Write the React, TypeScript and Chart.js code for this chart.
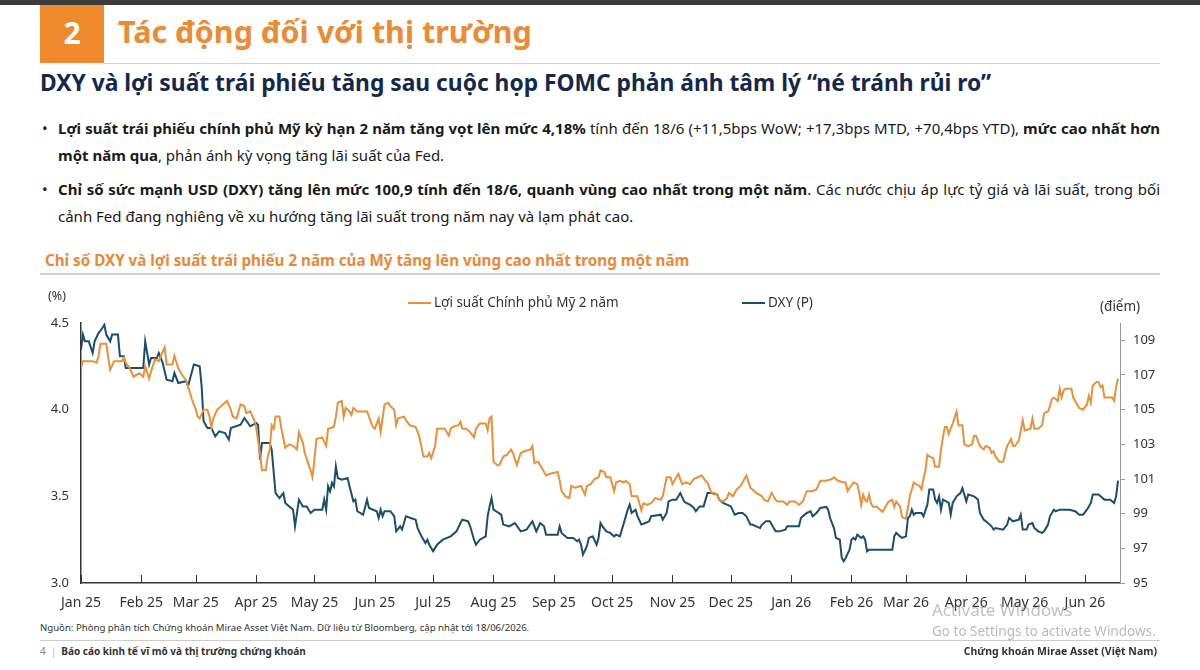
import React, { useEffect, useRef } from "react";
import { Chart, registerables } from "chart.js";

Chart.register(...registerables);

// Month boundaries, counted in days from 1 Jan 2025
const monthTickDays = [0, 31, 59, 90, 120, 151, 181, 212, 243, 273, 304, 334, 365, 396, 424, 455, 485, 516];
const monthLabels = [
  "Jan 25", "Feb 25", "Mar 25", "Apr 25", "May 25", "Jun 25", "Jul 25", "Aug 25", "Sep 25",
  "Oct 25", "Nov 25", "Dec 25", "Jan 26", "Feb 26", "Mar 26", "Apr 26", "May 26", "Jun 26",
];
const yieldTicks = [3.0, 3.5, 4.0, 4.5];
const dxyTicks = [95, 97, 99, 101, 103, 105, 107, 109];

// US 2-year Treasury yield (%)
const yieldDays = [
  0, 1, 6, 8, 9, 10, 13, 14, 15, 17,
  21, 22, 23, 25, 27, 30, 32, 33, 35, 36,
  38, 40, 41, 43, 44, 47, 48, 50, 52, 54,
  56, 57, 59, 60, 61, 63, 65, 66, 67, 68,
  70, 72, 75, 77, 78, 80, 82, 84, 85, 87,
  89, 90, 92, 93, 95, 96, 97, 98, 99, 100,
  102, 103, 105, 107, 109, 111, 112, 114, 115, 118,
  119, 121, 124, 126, 127, 130, 131, 132, 134, 135,
  136, 138, 139, 140, 142, 147, 148, 150, 151, 153,
  154, 156, 158, 159, 161, 162, 163, 166, 167, 169,
  172, 174, 176, 178, 179, 180, 182, 183, 185, 187,
  189, 190, 191, 194, 195, 196, 198, 200, 202, 203,
  205, 208, 209, 210, 211, 212, 214, 215, 217, 219,
  221, 222, 224, 226, 228, 231, 232, 233, 235, 237,
  239, 241, 245, 246, 247, 249, 251, 252, 254, 257,
  259, 260, 262, 264, 266, 267, 269, 270, 272, 274,
  275, 277, 279, 280, 282, 283, 286, 287, 288, 289,
  291, 293, 295, 298, 299, 301, 303, 304, 305, 307,
  309, 311, 313, 315, 317, 319, 321, 322, 324, 325,
  327, 328, 330, 332, 333, 335, 337, 339, 341, 342,
  344, 345, 347, 350, 351, 353, 355, 357, 358, 361,
  363, 364, 367, 369, 371, 373, 376, 378, 380, 383,
  386, 387, 389, 392, 393, 394, 397, 399, 400, 401,
  402, 403, 404, 405, 406, 407, 409, 411, 412, 414,
  415, 417, 418, 419, 421, 422, 424, 426, 428, 429,
  431, 432, 433, 434, 435, 436, 438, 439, 441, 442,
  443, 444, 445, 446, 447, 448, 450, 451, 453, 454,
  456, 458, 459, 460, 462, 464, 465, 467, 468, 469,
  470, 472, 474, 475, 476, 478, 479, 480, 482, 483,
  484, 485, 488, 489, 490, 492, 494, 495, 497, 498,
  499, 500, 502, 503, 504, 505, 506, 509, 510, 512,
  513, 515, 517, 518, 519, 520, 522, 523, 524, 525,
  526, 530, 531, 532, 533,
];
const yieldValues = [
  4.24, 4.28, 4.28, 4.27, 4.31, 4.38, 4.38, 4.30, 4.23, 4.28,
  4.28, 4.30, 4.27, 4.24, 4.19, 4.21, 4.19, 4.25, 4.18, 4.22,
  4.29, 4.28, 4.31, 4.36, 4.26, 4.26, 4.31, 4.24, 4.20, 4.17,
  4.10, 4.06, 4.00, 3.96, 3.95, 4.00, 4.00, 3.96, 3.90, 3.95,
  4.00, 4.02, 4.05, 4.00, 3.96, 3.95, 4.03, 4.02, 3.98, 3.99,
  3.94, 3.90, 3.75, 3.65, 3.65, 3.73, 3.77, 3.91, 3.89, 3.96,
  3.96, 3.89, 3.78, 3.80, 3.79, 3.77, 3.87, 3.81, 3.75, 3.65,
  3.61, 3.83, 3.84, 3.79, 3.89, 3.90, 3.96, 4.04, 4.05, 3.96,
  4.01, 3.99, 3.97, 4.01, 3.99, 3.99, 3.96, 3.90, 3.89, 3.95,
  3.87, 4.03, 4.04, 4.02, 4.00, 3.91, 3.95, 3.96, 3.94, 3.91,
  3.90, 3.84, 3.73, 3.73, 3.75, 3.72, 3.79, 3.89, 3.89, 3.89,
  3.85, 3.89, 3.90, 3.91, 3.93, 3.89, 3.89, 3.87, 3.84, 3.89,
  3.92, 3.92, 3.88, 3.95, 3.96, 3.70, 3.68, 3.68, 3.73, 3.74,
  3.77, 3.75, 3.68, 3.75, 3.76, 3.77, 3.79, 3.69, 3.70, 3.66,
  3.62, 3.63, 3.64, 3.59, 3.53, 3.50, 3.49, 3.56, 3.55, 3.56,
  3.51, 3.56, 3.57, 3.60, 3.61, 3.65, 3.64, 3.61, 3.61, 3.53,
  3.58, 3.59, 3.58, 3.59, 3.57, 3.50, 3.50, 3.46, 3.42, 3.46,
  3.45, 3.46, 3.49, 3.48, 3.50, 3.61, 3.61, 3.57, 3.59, 3.63,
  3.57, 3.58, 3.57, 3.60, 3.61, 3.62, 3.59, 3.58, 3.52, 3.52,
  3.51, 3.48, 3.47, 3.49, 3.52, 3.50, 3.54, 3.56, 3.60, 3.62,
  3.55, 3.54, 3.52, 3.50, 3.48, 3.47, 3.52, 3.48, 3.47, 3.47,
  3.45, 3.47, 3.47, 3.45, 3.47, 3.53, 3.53, 3.54, 3.59, 3.59,
  3.60, 3.61, 3.59, 3.58, 3.58, 3.53, 3.58, 3.57, 3.52, 3.45,
  3.51, 3.48, 3.47, 3.51, 3.46, 3.44, 3.44, 3.42, 3.41, 3.45,
  3.47, 3.48, 3.44, 3.47, 3.44, 3.38, 3.37, 3.50, 3.58, 3.57,
  3.56, 3.54, 3.60, 3.65, 3.74, 3.73, 3.72, 3.67, 3.67, 3.77,
  3.84, 3.90, 3.90, 3.86, 3.89, 3.92, 3.99, 3.91, 3.91, 3.80,
  3.79, 3.80, 3.85, 3.85, 3.79, 3.77, 3.79, 3.78, 3.75, 3.76,
  3.73, 3.70, 3.70, 3.75, 3.79, 3.83, 3.79, 3.79, 3.82, 3.88,
  3.94, 3.88, 3.89, 3.95, 3.89, 3.89, 3.91, 3.98, 3.99, 4.02,
  4.06, 4.07, 4.05, 4.12, 4.07, 4.11, 4.12, 4.12, 4.07, 4.03,
  4.01, 4.00, 4.03, 4.08, 4.04, 4.14, 4.16, 4.16, 4.13, 4.14,
  4.07, 4.07, 4.05, 4.13, 4.18,
];

// US Dollar Index (points, right axis)
const dxyDays = [
  0, 1, 2, 4, 6, 7, 9, 11, 12, 13,
  15, 16, 19, 20, 22, 23, 32, 33, 35, 36,
  39, 40, 42, 44, 47, 48, 50, 54, 55, 58,
  61, 62, 63, 65, 67, 69, 71, 74, 76, 77,
  82, 84, 87, 90, 91, 92, 93, 97, 98, 100,
  102, 104, 105, 107, 109, 110, 112, 114, 116, 118,
  120, 124, 125, 126, 127, 128, 129, 130, 131, 132,
  134, 137, 138, 140, 141, 142, 145, 147, 148, 152,
  153, 154, 155, 156, 159, 161, 162, 164, 165, 167,
  172, 173, 175, 177, 178, 179, 181, 183, 186, 190,
  193, 195, 196, 199, 200, 202, 203, 205, 208, 209,
  210, 211, 212, 216, 217, 220, 223, 226, 229, 232,
  234, 236, 238, 239, 245, 246, 247, 250, 253, 255,
  256, 257, 258, 260, 261, 263, 265, 266, 267, 268,
  270, 272, 274, 275, 277, 279, 281, 282, 283, 285,
  286, 288, 290, 292, 293, 298, 299, 301, 302, 304,
  306, 308, 310, 311, 313, 315, 316, 318, 320, 322,
  324, 327, 328, 330, 332, 334, 336, 338, 340, 342,
  344, 345, 347, 349, 350, 352, 354, 357, 359, 362,
  363, 369, 370, 373, 375, 376, 378, 380, 383, 384,
  385, 387, 388, 390, 391, 392, 393, 395, 396, 397,
  398, 399, 401, 402, 403, 404, 405, 417, 418, 419,
  421, 422, 424, 425, 426, 427, 428, 429, 432, 433,
  435, 436, 438, 439, 440, 441, 442, 443, 446, 447,
  448, 450, 452, 453, 454, 455, 456, 459, 461, 462,
  464, 465, 467, 468, 469, 470, 474, 476, 477, 479,
  482, 483, 484, 486, 487, 489, 490, 492, 494, 495,
  497, 498, 500, 501, 503, 508, 511, 513, 515, 517,
  518, 519, 520, 523, 524, 526, 529, 531, 532, 533,
];
const dxyValues = [
  108.46, 109.33, 108.94, 108.94, 108.27, 108.94, 109.42, 109.71, 109.9, 109.33,
  108.94, 109.33, 109.33, 108.08, 108.08, 107.4, 107.4, 108.94, 107.6, 107.98,
  107.98, 108.27, 107.69, 106.73, 106.64, 107.12, 106.54, 106.64, 106.35, 107.6,
  107.5, 106.35, 104.33, 103.94, 103.94, 103.46, 103.75, 103.65, 103.27, 103.94,
  104.13, 104.52, 104.04, 104.23, 104.13, 102.12, 103.08, 103.08, 102.69, 100.19,
  99.9, 100.19, 99.62, 99.42, 99.23, 98.27, 99.81, 99.42, 99.42, 99.04,
  99.23, 99.23, 99.81, 99.23, 100.58, 100.29, 100.77, 100.58, 101.73, 101.06,
  100.96, 101.06, 100.58, 99.71, 99.81, 99.14, 98.94, 99.81, 99.33, 99.14,
  98.75, 99.23, 98.85, 99.14, 99.14, 98.85, 97.98, 98.27, 98.08, 98.85,
  98.65, 98.17, 97.69, 97.31, 97.5, 97.21, 96.83, 97.21, 97.5, 97.69,
  97.98, 98.46, 98.65, 98.56, 98.27, 97.5, 97.21, 97.5, 97.69, 98.85,
  99.42, 99.9, 99.23, 98.94, 98.37, 98.27, 98.46, 97.98, 98.08, 98.56,
  97.98, 98.46, 98.27, 97.79, 97.79, 98.27, 97.89, 97.6, 97.6, 97.41,
  97.5, 97.21, 96.64, 97.12, 97.6, 97.69, 97.21, 97.6, 98.46, 98.27,
  97.98, 97.89, 97.69, 97.79, 97.69, 98.46, 99.23, 99.52, 99.04, 99.23,
  98.85, 98.37, 98.46, 98.56, 98.85, 98.94, 98.65, 99.04, 99.71, 99.81,
  99.81, 100.19, 99.71, 99.62, 99.52, 99.33, 99.14, 99.42, 99.42, 100.19,
  100.19, 100.1, 99.81, 99.62, 99.52, 99.42, 98.94, 99.04, 99.04, 98.85,
  98.37, 98.37, 98.27, 98.17, 98.37, 98.56, 98.56, 97.98, 97.98, 98.08,
  98.27, 98.27, 98.75, 99.04, 99.14, 98.85, 99.04, 99.33, 99.39, 99.23,
  98.75, 98.17, 97.6, 97.5, 96.44, 96.25, 96.44, 96.93, 97.5, 97.6,
  97.5, 97.79, 97.6, 97.69, 97.5, 96.83, 96.92, 96.92, 97.69, 97.89,
  97.69, 97.6, 97.69, 98.75, 98.85, 99.23, 98.94, 99.04, 99.04, 98.85,
  99.52, 100.39, 100.39, 99.81, 99.62, 100.0, 99.23, 99.81, 99.62, 98.94,
  99.62, 100.0, 100.19, 100.48, 100.1, 99.71, 100.1, 100.0, 99.81, 99.04,
  98.65, 98.56, 98.37, 98.27, 98.08, 98.17, 98.08, 98.37, 98.75, 98.56,
  98.65, 98.94, 98.08, 98.08, 98.37, 98.46, 98.17, 97.98, 97.89, 97.98,
  98.37, 98.85, 99.23, 99.14, 99.23, 99.23, 99.14, 98.94, 98.94, 99.23,
  99.42, 99.62, 100.1, 100.1, 100.0, 99.81, 99.81, 99.62, 100.0, 100.9,
];

const ORANGE = "#E8913B";
const NAVY = "#1B4D6C";
const FONT = "'Noto Sans', 'Open Sans', sans-serif";

Chart.defaults.font.family = FONT;

function DxyYieldChart() {
  const canvasRef = useRef<HTMLCanvasElement>(null);

  useEffect(() => {
    const canvas = canvasRef.current;
    if (!canvas) return;

    // Short month ticks that point up into the plot from the bottom axis
    const innerMonthTicks = {
      id: "innerMonthTicks",
      afterDraw(chart: any) {
        const xScale = chart.scales.x;
        const bottom = chart.chartArea.bottom;
        const ctx = chart.ctx;
        ctx.save();
        ctx.strokeStyle = "#333333";
        ctx.lineWidth = 1;
        monthTickDays.forEach((d) => {
          const px = Math.round(xScale.getPixelForValue(d)) + 0.5;
          ctx.beginPath();
          ctx.moveTo(px, bottom);
          ctx.lineTo(px, bottom - 8);
          ctx.stroke();
        });
        ctx.restore();
      },
    };

    const chart = new Chart(canvas, {
      type: "line",
      data: {
        datasets: [
          {
            label: "Lợi suất Chính phủ Mỹ 2 năm",
            data: yieldDays.map((d, i) => ({ x: d, y: yieldValues[i] })),
            borderColor: ORANGE,
            borderWidth: 2,
            pointRadius: 0,
            tension: 0,
            yAxisID: "y",
          },
          {
            label: "DXY (P)",
            data: dxyDays.map((d, i) => ({ x: d, y: dxyValues[i] })),
            borderColor: NAVY,
            borderWidth: 2,
            pointRadius: 0,
            tension: 0,
            yAxisID: "y1",
          },
        ],
      },
      options: {
        animation: false,
        responsive: false,
        maintainAspectRatio: false,
        layout: { padding: { top: 43, left: 0, right: 0, bottom: 0 } },
        plugins: { legend: { display: false }, tooltip: { enabled: false } },
        scales: {
          x: {
            type: "linear",
            min: 0,
            max: 534,
            afterBuildTicks: (scale: any) => {
              scale.ticks = monthTickDays.map((v) => ({ value: v }));
            },
            afterFit: (scale: any) => {
              scale.height = 37;
            },
            grid: { display: true, drawOnChartArea: false, drawTicks: false },
            border: { display: true, color: "#333333", width: 1.5 },
            ticks: {
              autoSkip: false,
              maxRotation: 0,
              padding: 12,
              color: "#333333",
              font: { size: 14 },
              callback: (v: any) => {
                const i = monthTickDays.indexOf(Number(v));
                return i >= 0 ? monthLabels[i] : "";
              },
            },
          },
          y: {
            position: "left",
            min: 3.0,
            max: 4.5,
            afterBuildTicks: (scale: any) => {
              scale.ticks = yieldTicks.map((v) => ({ value: v }));
            },
            afterFit: (scale: any) => {
              scale.width = 41;
            },
            grid: { display: true, drawOnChartArea: false, drawTicks: false },
            border: { display: true, color: "#333333", width: 1.5 },
            ticks: {
              padding: 12,
              color: "#333333",
              font: { size: 13 },
              callback: (v: any) => Number(v).toFixed(1),
            },
          },
          y1: {
            position: "right",
            min: 95,
            max: 110,
            afterBuildTicks: (scale: any) => {
              scale.ticks = dxyTicks.map((v) => ({ value: v }));
            },
            afterFit: (scale: any) => {
              scale.width = 40;
            },
            grid: { display: true, drawOnChartArea: false, drawTicks: true, tickLength: 5, color: "#9a9a9a" },
            border: { display: true, color: "#9a9a9a", width: 1 },
            ticks: {
              padding: 8,
              color: "#333333",
              font: { size: 13 },
              callback: (v: any) => String(v),
            },
          },
        },
      },
      plugins: [innerMonthTicks],
    } as any);

    return () => chart.destroy();
  }, []);

  return (
    <canvas
      ref={canvasRef}
      width={1120}
      height={340}
      style={{ position: "absolute", left: 40, top: 280, width: 1120, height: 340 }}
    />
  );
}

const abs = (left: number, top: number, extra: React.CSSProperties = {}): React.CSSProperties => ({
  position: "absolute",
  left,
  top,
  whiteSpace: "nowrap",
  ...extra,
});

const fullLine: React.CSSProperties = {
  width: 1102,
  textAlign: "justify",
  textAlignLast: "justify",
  height: 27,
  lineHeight: "27px",
};

export default function App() {
  return (
    <div
      style={{
        position: "absolute",
        left: 0,
        top: 0,
        width: 1200,
        height: 670,
        overflow: "hidden",
        background: "#ffffff",
        fontFamily: FONT,
        color: "#1a1a1a",
      }}
    >
      {/* page header */}
      <div style={abs(0, 0, { width: 1200, height: 5, background: "#3b3b3b" })} />
      <div
        style={abs(40, 5, {
          width: 64,
          height: 58,
          background: "#EE8A2C",
          color: "#ffffff",
          fontWeight: 700,
          fontSize: 30,
          lineHeight: "56px",
          textAlign: "center",
        })}
      >
        2
      </div>
      <div style={abs(118, 4, { height: 58, lineHeight: "54px", fontSize: 30.5, fontWeight: 700, color: "#EA8B35" })}>
        Tác động đối với thị trường
      </div>
      <div style={abs(104, 63, { width: 1056, height: 1, background: "#EBCBA8" })} />

      <div style={abs(40, 68, { fontSize: 22.8, fontWeight: 700, lineHeight: "30px", color: "#14284B" })}>
        DXY và lợi suất trái phiếu tăng sau cuộc họp FOMC phản ánh tâm lý “né tránh rủi ro”
      </div>

      {/* bullet points */}
      <div style={abs(42, 114.5, { fontSize: 15, lineHeight: "27px" })}>•</div>
      <div style={abs(58, 114.5, { fontSize: 15, whiteSpace: "normal" })}>
        <div style={fullLine}>
          <b>Lợi suất trái phiếu chính phủ Mỹ kỳ hạn 2 năm tăng vọt lên mức 4,18%</b> tính đến 18/6 (+11,5bps WoW;
          +17,3bps MTD, +70,4bps YTD), <b>mức cao nhất hơn</b>
        </div>
        <div style={{ height: 27, lineHeight: "27px" }}>
          <b>một năm qua</b>, phản ánh kỳ vọng tăng lãi suất của Fed.
        </div>
      </div>
      <div style={abs(42, 175.5, { fontSize: 15, lineHeight: "27px" })}>•</div>
      <div style={abs(58, 175.5, { fontSize: 15, whiteSpace: "normal" })}>
        <div style={fullLine}>
          <b>Chỉ số sức mạnh USD (DXY) tăng lên mức 100,9 tính đến 18/6, quanh vùng cao nhất trong một năm</b>. Các nước
          chịu áp lực tỷ giá và lãi suất, trong bối
        </div>
        <div style={{ height: 27, lineHeight: "27px" }}>
          cảnh Fed đang nghiêng về xu hướng tăng lãi suất trong năm nay và lạm phát cao.
        </div>
      </div>

      {/* chart title */}
      <div style={abs(45, 250, { fontSize: 15.2, fontWeight: 700, lineHeight: "20px", color: "#E8893A" })}>
        Chỉ số DXY và lợi suất trái phiếu 2 năm của Mỹ tăng lên vùng cao nhất trong một năm
      </div>
      <div style={abs(40, 273, { width: 1120, height: 2, background: "#cfcfcf" })} />

      <DxyYieldChart />

      {/* axis units and legend */}
      <div style={abs(48, 287, { fontSize: 12.5, lineHeight: "18px", color: "#333" })}>(%)</div>
      <div style={abs(1100, 297, { fontSize: 13.5, lineHeight: "18px", color: "#333" })}>(điểm)</div>
      <div style={abs(408, 302, { width: 23, height: 2, background: ORANGE })} />
      <div style={abs(434, 293, { fontSize: 13.5, lineHeight: "18px", color: "#333" })}>Lợi suất Chính phủ Mỹ 2 năm</div>
      <div style={abs(742, 302, { width: 23, height: 2, background: NAVY })} />
      <div style={abs(768, 293, { fontSize: 13.5, lineHeight: "18px", color: "#333" })}>DXY (P)</div>

      {/* footer */}
      <div style={abs(40, 621, { fontSize: 9.6, lineHeight: "14px", color: "#333" })}>
        Nguồn: Phòng phân tích Chứng khoán Mirae Asset Việt Nam. Dữ liệu từ Bloomberg, cập nhật tới 18/06/2026.
      </div>
      <div style={abs(40, 640, { width: 1120, height: 1, background: "#cccccc" })} />
      <div style={abs(40, 644, { fontSize: 10, lineHeight: "14px", color: "#333" })}>
        <span style={{ color: "#888" }}>4</span>
        <span style={{ color: "#bbb", margin: "0 5px" }}>|</span>
        <b>Báo cáo kinh tế vĩ mô và thị trường chứng khoán</b>
      </div>
      <div
        style={abs(0, 644, {
          left: "auto",
          right: 43,
          fontSize: 10.5,
          lineHeight: "14px",
          fontWeight: 700,
          color: "#333",
        })}
      >
        Chứng khoán Mirae Asset (Việt Nam)
      </div>

      {/* system watermark */}
      <div style={abs(932, 599, { fontSize: 17, lineHeight: "22px", color: "rgba(140,140,140,0.55)" })}>
        Activate Windows
      </div>
      <div style={abs(932, 622, { fontSize: 13.5, lineHeight: "18px", color: "rgba(140,140,140,0.6)" })}>
        Go to Settings to activate Windows.
      </div>
    </div>
  );
}
